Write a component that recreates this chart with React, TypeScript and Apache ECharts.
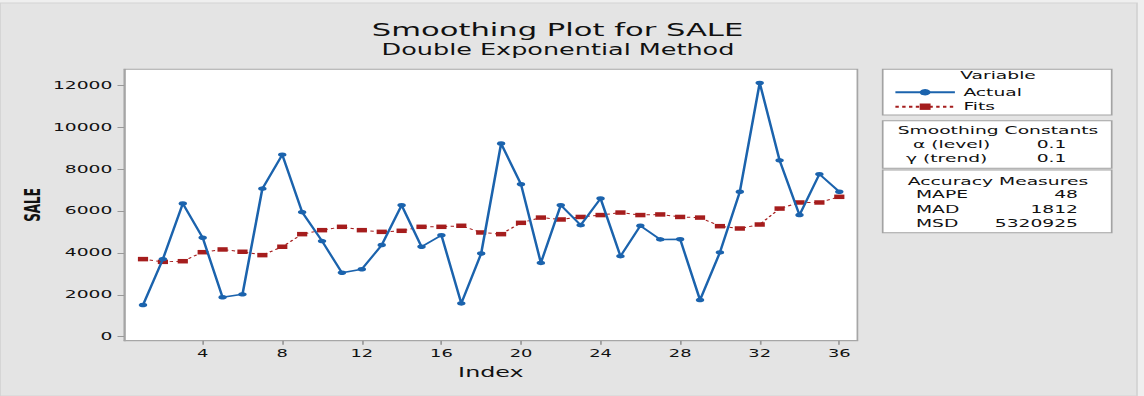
import React, { useEffect, useRef } from "react";
import * as echarts from "echarts";

// ---- data ----
const INDEX = [1, 2, 3, 4, 5, 6, 7, 8, 9, 10, 11, 12, 13, 14, 15, 16, 17, 18, 19, 20, 21, 22, 23, 24, 25, 26, 27, 28, 29, 30, 31, 32, 33, 34, 35, 36];
const ACTUAL = [1510, 3700, 6350, 4720, 1880, 2020, 7060, 8680, 5940, 4560, 3050, 3220, 4370, 6270, 4290, 4840, 1590, 3970, 9210, 7270, 3520, 6270, 5320, 6590, 3840, 5290, 4640, 4650, 1750, 4020, 6910, 12100, 8410, 5800, 7750, 6910];
const FITS = [3700, 3570, 3600, 4030, 4160, 4050, 3890, 4290, 4890, 5080, 5240, 5080, 5000, 5050, 5240, 5240, 5290, 4970, 4890, 5430, 5680, 5590, 5710, 5800, 5920, 5800, 5830, 5710, 5680, 5270, 5160, 5350, 6110, 6400, 6400, 6670];
const X_TICKS = [4, 8, 12, 16, 20, 24, 28, 32, 36];
const Y_TICKS = [0, 2000, 4000, 6000, 8000, 10000, 12000];
const SERIES_NAMES = ["Actual", "Fits"];
const TITLE = "Smoothing Plot for SALE";
const SUBTITLE = "Double Exponential Method";
const SMOOTHING = [
  ["α (level)", "0.1"],
  ["γ (trend)", "0.1"],
];
const ACCURACY = [
  ["MAPE", "48"],
  ["MAD", "1812"],
  ["MSD", "5320925"],
];

// ---- layout (the reference image is horizontally stretched) ----
const S = 1.7;
const W = 1144 / S;
const H = 396;
const vx = (v: number) => v / S;
const FONT = "DejaVu Sans";
const BLUE = "#1b63ad";
const RED = "#a51d1d";
const TXT = "#111111";

function txt(text: string, x: number, y: number, size: number, align = "left", weight = "normal") {
  return {
    type: "text",
    x,
    y,
    style: {
      text,
      fill: TXT,
      fontSize: size,
      fontFamily: FONT,
      fontWeight: weight,
      align,
      textAlign: align,
      verticalAlign: "middle",
      textVerticalAlign: "middle",
    },
  };
}

function box(x1: number, y1: number, x2: number, y2: number) {
  return {
    type: "rect",
    shape: { x: vx(x1), y: y1, width: vx(x2) - vx(x1), height: y2 - y1 },
    style: { fill: "#ffffff", stroke: "#a3a3a3", lineWidth: 1 },
  };
}

export default function App() {
  const ref = useRef<HTMLDivElement>(null);

  useEffect(() => {
    if (!ref.current) return;
    const chart = echarts.init(ref.current, undefined, { renderer: "svg" });
    const cx = vx(998);
    const graphic: any[] = [
      { type: "rect", shape: { x: vx(1137), y: 0, width: W - vx(1137), height: H }, style: { fill: "#efefef" } },
      { type: "rect", shape: { x: 0, y: 0, width: W, height: 3 }, style: { fill: "#efefef" } },
      { type: "rect", shape: { x: 0, y: 3, width: vx(1137), height: H - 3 }, style: { fill: "none", stroke: "#d3d3d3", lineWidth: 1 } },
      txt(TITLE, vx(557.5), 30, 18, "center"),
      txt(SUBTITLE, vx(558), 50, 15, "center"),
      box(882.7, 69.3, 1111.7, 115),
      box(882.7, 120.7, 1111.7, 168.3),
      box(882.7, 170, 1111.7, 232.7),
      txt("Variable", cx, 75.5, 11, "center"),
      txt("Smoothing Constants", cx, 130.7, 11, "center"),
      txt(SMOOTHING[0][0], vx(913), 144.3, 11),
      txt(SMOOTHING[0][1], vx(1036.7), 144.3, 11),
      txt(SMOOTHING[1][0], vx(906), 158.3, 11),
      txt(SMOOTHING[1][1], vx(1036.7), 158.3, 11),
      txt("Accuracy Measures", cx, 181.7, 11, "center"),
    ];
    ACCURACY.forEach((row, i) => {
      const y = 194.5 + i * 14.5;
      graphic.push(txt(row[0], vx(916), y, 11));
      graphic.push(txt(row[1], vx(1078), y, 11, "right"));
    });

    chart.setOption({
      animation: false,
      backgroundColor: "#e4e4e4",
      textStyle: { fontFamily: FONT },
      grid: {
        left: vx(124.3),
        right: W - vx(857.3),
        top: 69.3,
        bottom: H - 340.7,
        show: true,
        backgroundColor: "#ffffff",
        borderColor: "#a6a6a6",
        borderWidth: 1,
      },
      legend: {
        orient: "vertical",
        left: vx(961.7) - 40,
        top: 86.3,
        padding: 0,
        itemWidth: 35,
        itemHeight: 8,
        itemGap: 2.4,
        data: SERIES_NAMES,
        textStyle: { fontSize: 11, color: TXT, lineHeight: 12, fontFamily: FONT },
      },
      xAxis: {
        type: "value",
        min: 0.06,
        max: 36.91,
        axisLine: { show: true, onZero: false, lineStyle: { color: "#a6a6a6" } },
        axisTick: { show: true, customValues: X_TICKS, length: 4, lineStyle: { color: "#999999" } },
        axisLabel: { customValues: X_TICKS, fontSize: 10.5, color: TXT, margin: 7, fontFamily: FONT },
        splitLine: { show: false },
        name: "Index",
        nameLocation: "middle",
        nameGap: 25,
        nameMoveOverlap: false,
        nameTextStyle: { fontSize: 14, color: TXT, fontFamily: FONT },
      },
      yAxis: {
        type: "value",
        min: -190,
        max: 12750,
        axisLine: { show: true, onZero: false, lineStyle: { color: "#a6a6a6" } },
        axisTick: { show: true, customValues: Y_TICKS, length: 4, lineStyle: { color: "#999999" } },
        axisLabel: {
          customValues: Y_TICKS,
          formatter: (v: number) => String(v),
          fontSize: 11,
          color: TXT,
          margin: 7,
          fontFamily: FONT,
        },
        splitLine: { show: false },
        name: "SALE",
        nameLocation: "middle",
        nameGap: 48,
        nameMoveOverlap: false,
        nameTextStyle: { fontSize: 12, fontWeight: "bold", color: TXT, fontFamily: FONT },
      },
      series: [
        {
          name: SERIES_NAMES[0],
          type: "line",
          data: INDEX.map((x, i) => [x, ACTUAL[i]]),
          symbol: "circle",
          symbolSize: [5, 4.5],
          lineStyle: { width: 1.5, color: BLUE },
          itemStyle: { color: BLUE },
          z: 3,
        },
        {
          name: SERIES_NAMES[1],
          type: "line",
          data: INDEX.map((x, i) => [x, FITS[i]]),
          symbol: "rect",
          symbolSize: [6, 4.5],
          lineStyle: { width: 1, type: [2, 2], color: RED },
          itemStyle: { color: RED },
          z: 2,
        },
      ],
      graphic,
    });
    return () => chart.dispose();
  }, []);

  return (
    <div style={{ position: "fixed", left: 0, top: 0, width: 1144, height: H, background: "#efefef", overflow: "hidden" }}>
      <div
        ref={ref}
        style={{ width: W, height: H, transform: `scaleX(${S})`, transformOrigin: "0 0" }}
      />
    </div>
  );
}
